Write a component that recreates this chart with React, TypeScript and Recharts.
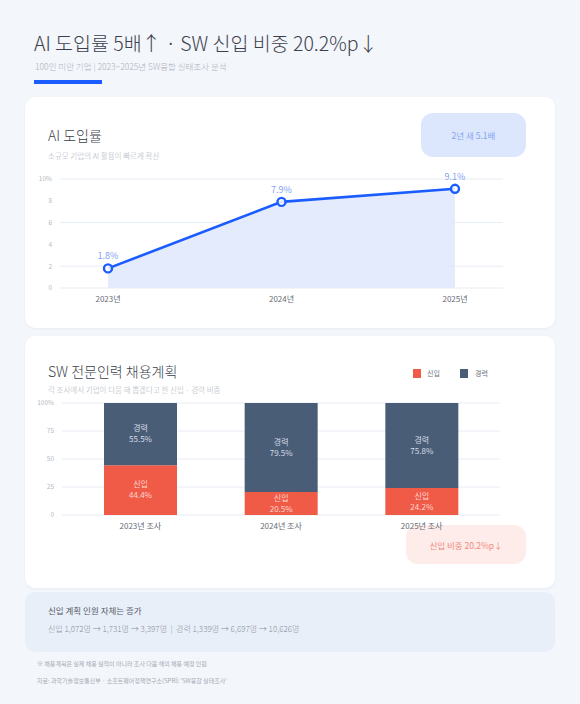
import React from "react";
import {
  ComposedChart, Area, XAxis, YAxis, CartesianGrid, LabelList,
  BarChart, Bar,
} from "recharts";

const aiYears = ["2023년", "2024년", "2025년"];
const aiRates = [1.8, 7.9, 9.1];
const aiTicks = [0, 2, 4, 6, 8, 10];

const hireSurveys = ["2023년 조사", "2024년 조사", "2025년 조사"];
const newShare = [44.4, 20.5, 24.2];
const expShare = [55.5, 79.5, 75.8];
const hireTicks = [0, 25, 50, 75, 100];

const FONT = "'Noto Sans CJK KR', 'Noto Sans', sans-serif";
const BLUE = "#1a5cff";
const RED = "#f05b48";
const NAVY = "#4a5d77";

const aiData = aiYears.map((year, i) => ({ year, rate: aiRates[i] }));
const hireData = hireSurveys.map((survey, i) => ({
  survey,
  newcomer: newShare[i],
  experienced: expShare[i],
}));

function stackLabel(name, color) {
  return (props) => {
    const { x, y, width, height, value } = props;
    const cx = x + width / 2;
    const cy = y + height / 2;
    return (
      <g>
        <text x={cx} y={cy - 5} textAnchor="middle" dominantBaseline="middle" fontSize={8} fill={color} fontFamily={FONT}>
          {name}
        </text>
        <text x={cx} y={cy + 6} textAnchor="middle" dominantBaseline="middle" fontSize={8} fill={color} fontFamily={FONT}>
          {value}%
        </text>
      </g>
    );
  };
}

const card = {
  position: "absolute",
  left: 25,
  width: 530,
  background: "#ffffff",
  borderRadius: 10,
  boxShadow: "0 1px 3px rgba(30,50,90,0.05)",
};

export default function App() {
  return (
    <div
      style={{
        position: "absolute",
        left: 0,
        top: 0,
        width: 580,
        height: 704,
        background: "#f3f6fb",
        fontFamily: FONT,
        overflow: "hidden",
      }}
    >
      {/* header */}
      <div style={{ position: "absolute", left: 34, top: 28, fontSize: 19.5, fontWeight: 200, color: "#3b404c", whiteSpace: "nowrap" }}>
        AI 도입률 5배↑ · SW 신입 비중 20.2%p↓
      </div>
      <div style={{ position: "absolute", left: 35, top: 60, fontSize: 8.5, fontWeight: 300, color: "#aeb2bb", whiteSpace: "nowrap" }}>
        100인 미만 기업 | 2023~2025년 SW융합 실태조사 분석
      </div>
      <div style={{ position: "absolute", left: 34, top: 80, width: 68, height: 4, background: BLUE }} />

      {/* card 1 */}
      <div style={{ ...card, top: 97, height: 231 }}>
        <div style={{ position: "absolute", left: 23, top: 28, fontSize: 14, fontWeight: 300, color: "#3a3f4b" }}>AI 도입률</div>
        <div style={{ position: "absolute", left: 23, top: 53, fontSize: 7.5, fontWeight: 300, color: "#aab0ba" }}>소규모 기업의 AI 활용이 빠르게 확산</div>
        <div
          style={{
            position: "absolute", left: 396, top: 16, width: 105, height: 44, borderRadius: 12,
            background: "#dce7fd", color: "#86a5ef", fontSize: 8.5,
            display: "flex", alignItems: "center", justifyContent: "center",
          }}
        >
          2년 새 5.1배
        </div>
      </div>
      <div style={{ position: "absolute", left: 25, top: 165 }}>
        <ComposedChart width={500} height={150} data={aiData} margin={{ top: 14, right: 22, bottom: 7, left: 0 }}>
          <CartesianGrid horizontal vertical={false} stroke="#e7ecf4" />
          <XAxis
            dataKey="year"
            axisLine={false}
            tickLine={false}
            padding={{ left: 48, right: 48 }}
            height={20}
            tick={{ fontSize: 8, fill: "#666b75", fontFamily: FONT }}
          />
          <YAxis
            width={35}
            domain={[0, 10]}
            ticks={aiTicks}
            axisLine={false}
            tickLine={false}
            tickFormatter={(v) => (v === 10 ? "10%" : `${v}`)}
            tick={{ fontSize: 6.5, fill: "#b5bac3", fontFamily: FONT }}
          />
          <Area
            type="linear"
            dataKey="rate"
            stroke={BLUE}
            strokeWidth={2.6}
            fill="#dfe8fc"
            fillOpacity={0.85}
            dot={{ r: 4, fill: "#ffffff", stroke: BLUE, strokeWidth: 2.4 }}
            activeDot={false}
            isAnimationActive={false}
          >
            <LabelList
              dataKey="rate"
              position="top"
              offset={9}
              formatter={(v) => `${v}%`}
              style={{ fontSize: 9, fill: "#7fa2f4", fontFamily: FONT }}
            />
          </Area>
        </ComposedChart>
      </div>

      {/* card 2 */}
      <div style={{ ...card, top: 336, height: 252 }}>
        <div style={{ position: "absolute", left: 23, top: 25, fontSize: 14, fontWeight: 300, color: "#3a3f4b" }}>SW 전문인력 채용계획</div>
        <div style={{ position: "absolute", left: 23, top: 48, fontSize: 7.5, fontWeight: 300, color: "#aab0ba" }}>각 조사에서 기업이 다음 해 뽑겠다고 한 신입 · 경력 비중</div>
        <div style={{ position: "absolute", left: 388, top: 33, width: 8, height: 9, background: RED }} />
        <div style={{ position: "absolute", left: 402, top: 32, fontSize: 7, color: "#6b717c" }}>신입</div>
        <div style={{ position: "absolute", left: 435, top: 33, width: 8, height: 9, background: NAVY }} />
        <div style={{ position: "absolute", left: 450, top: 32, fontSize: 7, color: "#6b717c" }}>경력</div>
        <div
          style={{
            position: "absolute", left: 381, top: 189, width: 120, height: 39, borderRadius: 12,
            background: "#fdecea", color: "#f3897b", fontSize: 8.5,
            display: "flex", alignItems: "center", justifyContent: "center",
          }}
        >
          신입 비중 20.2%p↓
        </div>
      </div>
      <div style={{ position: "absolute", left: 25, top: 395 }}>
        <BarChart width={495} height={145} data={hireData} margin={{ top: 8, right: 20, bottom: 5, left: 0 }}>
          <CartesianGrid horizontal vertical={false} stroke="#e7ecf4" />
          <XAxis
            dataKey="survey"
            axisLine={false}
            tickLine={false}
            padding={{ left: 8, right: 8 }}
            height={20}
            tick={{ fontSize: 8, fill: "#666b75", fontFamily: FONT }}
          />
          <YAxis
            width={37}
            domain={[0, 100]}
            ticks={hireTicks}
            axisLine={false}
            tickLine={false}
            tickFormatter={(v) => (v === 100 ? "100%" : `${v}`)}
            tick={{ fontSize: 6.5, fill: "#b5bac3", fontFamily: FONT }}
          />
          <Bar dataKey="newcomer" stackId="s" fill={RED} barSize={73} isAnimationActive={false}>
            <LabelList dataKey="newcomer" content={stackLabel("신입", "#fcd6cf")} />
          </Bar>
          <Bar dataKey="experienced" stackId="s" fill={NAVY} barSize={73} isAnimationActive={false}>
            <LabelList dataKey="experienced" content={stackLabel("경력", "#d3dbe6")} />
          </Bar>
        </BarChart>
      </div>

      {/* note box */}
      <div style={{ position: "absolute", left: 25, top: 592, width: 530, height: 60, borderRadius: 10, background: "#e9eff9" }}>
        <div style={{ position: "absolute", left: 23, top: 12, fontSize: 8.5, color: "#555b66" }}>신입 계획 인원 자체는 증가</div>
        <div style={{ position: "absolute", left: 23, top: 31, fontSize: 8, fontWeight: 300, color: "#8a909a", whiteSpace: "nowrap" }}>
          신입 1,072명 → 1,731명 → 3,397명 &nbsp;|&nbsp; 경력 1,339명 → 6,697명 → 10,626명
        </div>
      </div>

      {/* footnotes */}
      <div style={{ position: "absolute", left: 37, top: 659, fontSize: 6, color: "#a6abb4", whiteSpace: "nowrap" }}>
        ※ 채용계획은 실제 채용 실적이 아니라 조사 다음 해의 채용 예정 인원
      </div>
      <div style={{ position: "absolute", left: 37, top: 676, fontSize: 6, color: "#a6abb4", whiteSpace: "nowrap" }}>
        자료: 과학기술정보통신부 · 소프트웨어정책연구소(SPRi) 'SW융합 실태조사'
      </div>
    </div>
  );
}
